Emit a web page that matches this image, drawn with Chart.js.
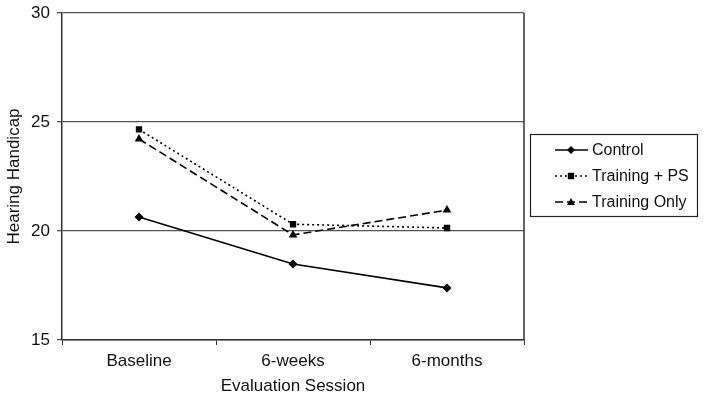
<!DOCTYPE html>
<html>
<head>
<meta charset="utf-8">
<script src="https://cdn.jsdelivr.net/npm/chart.js@4"></script>
<style>
  html, body { margin: 0; padding: 0; background: #fff; }
  #wrap { width: 704px; height: 401px; }
</style>
</head>
<body>
<div id="wrap"><canvas id="myChart" width="704" height="401"></canvas></div>
<script>
// data
var sessions = ["Baseline", "6-weeks", "6-months"];
var control = [20.64, 18.49, 17.39];
var trainingPS = [24.66, 20.31, 20.14];
var trainingOnly = [24.22, 19.82, 20.96];
var seriesNames = ["Control", "Training + PS", "Training Only"];
var yTicks = [15, 20, 25, 30];

var FONT = "'Liberation Sans', Arial, sans-serif";

// markers, shared by the chart and the legend
function marker(ctx, style, x, y, r) {
  ctx.save();
  ctx.fillStyle = "#000";
  ctx.setLineDash([]);
  ctx.beginPath();
  if (style === "rectRot") {
    ctx.moveTo(x, y - r); ctx.lineTo(x + r, y); ctx.lineTo(x, y + r); ctx.lineTo(x - r, y);
  } else if (style === "rect") {
    ctx.rect(x - r * 0.8, y - r * 0.8, r * 1.6, r * 1.6);
  } else {
    ctx.moveTo(x, y - r); ctx.lineTo(x + r, y + r * 0.75); ctx.lineTo(x - r, y + r * 0.75);
  }
  ctx.closePath();
  ctx.fill();
  ctx.restore();
}

//Draw the legend box and the right border of the plot
var boxLegend = {
  id: "boxLegend",
  afterDraw: function(chart) {
    var ctx = chart.ctx;
    var a = chart.chartArea;
    ctx.save();
    // right frame line
    ctx.strokeStyle = "#333";
    ctx.lineWidth = 1.5;
    ctx.beginPath();
    ctx.moveTo(a.right, a.top);
    ctx.lineTo(a.right, a.bottom);
    ctx.stroke();

    var bx = a.right + 6, by = 134, bw = 167, bh = 82;
    ctx.lineWidth = 1.2;
    ctx.strokeStyle = "#222";
    ctx.strokeRect(bx + 0.5, by + 0.5, bw, bh);

    ctx.font = "16px " + FONT;
    ctx.textBaseline = "middle";
    ctx.fillStyle = "#111";
    chart.data.datasets.forEach(function(ds, i) {
      var y = by + 16 + i * 26;
      ctx.strokeStyle = "#000";
      ctx.lineWidth = ds.borderWidth;
      ctx.setLineDash(ds.borderDash || []);
      ctx.beginPath();
      ctx.moveTo(bx + 25, y);
      ctx.lineTo(bx + 58, y);
      ctx.stroke();
      marker(ctx, ds.pointStyle, bx + 41, y, 4);
      ctx.fillText(ds.label, bx + 62, y + 1);
    });
    ctx.restore();
  }
};

var ctx = document.getElementById("myChart").getContext("2d");

var myChart = new Chart(ctx, {
  type: "line",
  data: {
    labels: sessions,
    datasets: [
      {
        label: seriesNames[0], data: control,
        borderColor: "#000", backgroundColor: "#000", borderWidth: 1.6,
        pointStyle: "rectRot", pointRadius: 4.5, pointBorderWidth: 0
      },
      {
        label: seriesNames[1], data: trainingPS,
        borderColor: "#000", backgroundColor: "#000", borderWidth: 1.6, borderDash: [2, 3],
        pointStyle: "rect", pointRadius: 4.5, pointBorderWidth: 0
      },
      {
        label: seriesNames[2], data: trainingOnly,
        borderColor: "#000", backgroundColor: "#000", borderWidth: 1.6, borderDash: [8, 4],
        pointStyle: "triangle", pointRadius: 5, pointBorderWidth: 0
      }
    ]
  },
  options: {
    responsive: false,
    animation: false,
    layout: { padding: { top: 13, right: 180, left: 0, bottom: 0 } },
    plugins: { legend: { display: false }, tooltip: { enabled: false } },
    scales: {
      x: {
        offset: true,
        afterFit: function(scale) { scale.height = 61; scale.paddingLeft = 0; scale.paddingRight = 0; },
        grid: { offset: true, drawOnChartArea: false, drawTicks: true, tickLength: 5, color: "#333" },
        border: { color: "#333", width: 1.5 },
        ticks: { color: "#111", padding: 6, font: { family: FONT, size: 17 } },
        title: { display: true, text: "Evaluation Session", color: "#111", font: { family: FONT, size: 17 } }
      },
      y: {
        min: 15, max: 30,
        afterFit: function(scale) { scale.width = 62; scale.paddingTop = 0; scale.paddingBottom = 0; },
        afterBuildTicks: function(scale) { scale.ticks = yTicks.map(function(v) { return { value: v }; }); },
        grid: { color: "#555", lineWidth: 1.3, tickLength: 5, drawTicks: true },
        border: { color: "#333", width: 1.5 },
        ticks: { color: "#111", padding: 7, font: { family: FONT, size: 17 } },
        title: { display: true, text: "Hearing Handicap", color: "#111", font: { family: FONT, size: 17 } }
      }
    }
  },
  plugins: [boxLegend]
});
</script>
</body>
</html>
